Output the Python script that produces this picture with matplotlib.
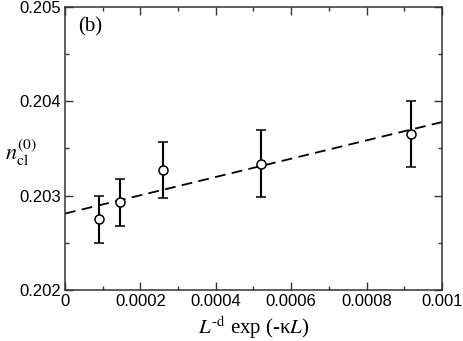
import matplotlib
matplotlib.use("Agg")
import matplotlib.pyplot as plt
import numpy as np
from matplotlib.ticker import MultipleLocator

# data
x_vals = [0.000091, 0.000147, 0.000261, 0.000521, 0.000917]
y_vals = [0.20275, 0.20293, 0.20327, 0.20334, 0.20365]
y_err_up = [0.00025, 0.00025, 0.00030, 0.00036, 0.00035]
y_err_dn = [0.00025, 0.00025, 0.00030, 0.00035, 0.00035]
fit_intercept = 0.20281
fit_slope = 0.97
fit_x = [0.0, 0.001]

plt.rcParams['mathtext.fontset'] = 'stix'

fig = plt.figure(figsize=(4.63, 3.41), dpi=100)
ax = fig.add_axes([0.1404, 0.1496, 0.8142, 0.8299])

fx = np.array(fit_x)
ax.plot(fx, fit_intercept + fit_slope * fx, color='black', lw=1.3,
        dashes=(6, 3.5))
ax.errorbar(x_vals, y_vals, yerr=[y_err_dn, y_err_up], fmt='o', color='black',
            mfc='white', mec='black', ms=6.5, mew=1.1, elinewidth=1.5,
            capsize=3.5, capthick=1.5, zorder=3)

ax.set_xlim(0, 0.001)
ax.set_ylim(0.202, 0.205)
ax.xaxis.set_minor_locator(MultipleLocator(0.0001))
ax.yaxis.set_minor_locator(MultipleLocator(0.0005))
ax.set_xticks([0, 0.0002, 0.0004, 0.0006, 0.0008, 0.001])
ax.set_xticklabels(['0', '0.0002', '0.0004', '0.0006', '0.0008', '0.001'])
ax.set_yticks([0.202, 0.203, 0.204, 0.205])
ax.set_yticklabels(['0.202', '0.203', '0.204', '0.205'])

ax.tick_params(which='both', direction='in', top=True, right=True,
               labelsize=12, width=1, colors='#333333', labelcolor='black')
ax.tick_params(which='major', length=6, pad=3)
ax.tick_params(which='minor', length=3)
for lab in ax.get_xticklabels() + ax.get_yticklabels():
    lab.set_fontfamily('Liberation Sans')
for s in ax.spines.values():
    s.set_linewidth(1.1)
    s.set_color('#333333')

ax.set_xlabel(r'$L^{\mathrm{‐d}}$ exp (-κ$L$)', fontsize=15,
              fontfamily='Liberation Serif', labelpad=3)
ax.set_ylabel(r'$n_{\mathrm{cl}}^{(0)}$', fontsize=16, rotation=0,
              va='center', ha='center')
ax.yaxis.set_label_coords(-0.118, 0.485)
ax.text(0.035, 0.93, '(b)', transform=ax.transAxes, fontsize=15,
        fontfamily='Liberation Serif', va='center')

fig.savefig('out.png', dpi=100)
